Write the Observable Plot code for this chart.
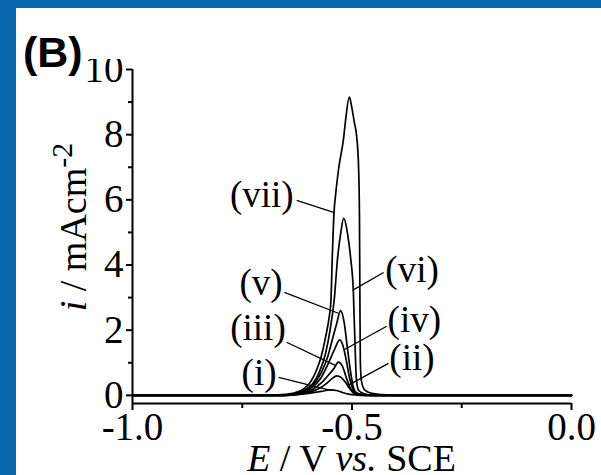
<!DOCTYPE html>
<html>
<head>
<meta charset="utf-8">
<script src="https://cdn.jsdelivr.net/npm/d3@7"></script>
<script src="https://cdn.jsdelivr.net/npm/@observablehq/plot@0.6"></script>
<style>
  html, body { margin: 0; padding: 0; background: white; }
  #frame {
    position: relative; width: 601px; height: 475px; box-sizing: border-box;
    border-left: 16px solid #0a69ae; border-top: 8px solid #0a69ae; background: white; overflow: hidden;
  }
  #chart { position: absolute; left: 0; top: 0; }
  #panel {
    position: absolute; left: 0; top: 0; width: 115px; height: 51px; background: white;
  }
  #panel span {
    position: absolute; left: 7px; top: 23px; font: bold 43px/43px "Liberation Sans", Arial, sans-serif; color: black;
    white-space: nowrap;
  }
</style>
</head>
<body>
<div id="frame"><div id="chart"></div><div id="panel"><span>(B)</span></div></div>
<script>
// ---- data ----
const xMajor = [-1.0, -0.5, 0.0];
const xMinor = [-0.75, -0.25];
const yMajor = [0, 2, 4, 6, 8, 10];
const yMinor = [1, 3, 5, 7, 9];

const E_i   = [-1.0,-0.65,-0.62,-0.595,-0.57,-0.55,-0.535,-0.52,-0.505,-0.49,-0.47,0];
const I_i   = [0,0,0.03,0.07,0.12,0.17,0.15,0.08,0.03,0.01,0,0];

const E_ii  = [-1.0,-0.66,-0.64,-0.61,-0.59,-0.57,-0.555,-0.545,-0.535,-0.525,-0.515,-0.505,-0.495,-0.48,-0.46,0];
const I_ii  = [0,0,0.01,0.06,0.13,0.25,0.4,0.52,0.6,0.55,0.4,0.2,0.06,0.01,0,0];

const E_iii = [-1.0,-0.66,-0.64,-0.61,-0.59,-0.57,-0.555,-0.54,-0.531,-0.522,-0.513,-0.505,-0.497,-0.485,-0.46,0];
const I_iii = [0,0,0.02,0.08,0.18,0.38,0.6,0.85,1.02,0.9,0.55,0.25,0.1,0.03,0,0];

const E_iv  = [-1.0,-0.66,-0.64,-0.61,-0.59,-0.57,-0.555,-0.54,-0.528,-0.52,-0.512,-0.505,-0.498,-0.49,-0.47,-0.45,0];
const I_iv  = [0,0,0.02,0.1,0.25,0.55,0.95,1.4,1.7,1.5,1.0,0.5,0.2,0.06,0.01,0,0];

const E_v   = [-1.0,-0.66,-0.64,-0.61,-0.59,-0.57,-0.555,-0.545,-0.535,-0.526,-0.518,-0.51,-0.503,-0.497,-0.49,-0.475,-0.45,0];
const I_v   = [0,0,0.02,0.12,0.3,0.7,1.2,1.7,2.2,2.6,2.25,1.4,0.7,0.25,0.08,0.02,0,0];

const E_vi  = [-1.0,-0.66,-0.64,-0.61,-0.59,-0.575,-0.56,-0.55,-0.54,-0.533,-0.526,-0.519,-0.510,-0.503,-0.497,-0.493,-0.490,-0.485,-0.47,-0.45,0];
const I_vi  = [0,0,0.02,0.15,0.35,0.7,1.3,2.0,3.0,4.2,4.95,5.43,4.95,4.2,3.2,1.5,0.5,0.15,0.04,0,0];

const E_vii = [-1.0,-0.70,-0.66,-0.63,-0.61,-0.595,-0.58,-0.57,-0.56,-0.552,-0.548,-0.545,-0.541,-0.537,-0.53,-0.519,-0.515,-0.506,-0.500,-0.495,-0.489,-0.485,-0.483,-0.482,-0.481,-0.478,-0.47,-0.455,-0.43,-0.40,0];
const I_vii = [0,0,0.02,0.08,0.2,0.4,0.8,1.2,1.8,2.4,2.9,4.2,5.6,6.2,7.0,7.9,8.4,9.15,8.8,8.4,7.9,7.0,5.5,3.0,1.0,0.4,0.15,0.06,0.02,0,0];

const labelText = ["(i)", "(ii)", "(iii)", "(iv)", "(v)", "(vi)", "(vii)"];
const labelE    = [-0.672, -0.415, -0.651, -0.419, -0.658, -0.424, -0.633];
const labelI    = [0.67, 1.13, 2.06, 2.30, 3.44, 3.83, 6.13];
const labelSide = ["end", "start", "end", "start", "end", "start", "end"];
const leadE1    = [-0.667, -0.417, -0.649, -0.421, -0.654, -0.428, -0.626];
const leadI1    = [0.55, 0.98, 1.63, 2.12, 3.16, 3.77, 5.98];
const leadE2    = [-0.549, -0.51, -0.538, -0.518, -0.531, -0.499, -0.540];
const leadI2    = [0.15, 0.3, 0.92, 1.4, 2.52, 3.22, 5.61];

// ---- build tables ----
const series = [
  ["(i)", E_i, I_i], ["(ii)", E_ii, I_ii], ["(iii)", E_iii, I_iii], ["(iv)", E_iv, I_iv],
  ["(v)", E_v, I_v], ["(vi)", E_vi, I_vi], ["(vii)", E_vii, I_vii]
];
const rows = [];
for (const [name, E, I] of series) E.forEach((e, k) => rows.push({series: name, E: e, I: I[k]}));
const labels = labelText.map((t, k) => ({t, E: labelE[k], I: labelI[k], side: labelSide[k],
  x1: leadE1[k], y1: leadI1[k], x2: leadE2[k], y2: leadI2[k]}));

const FONT = "'Liberation Serif', 'Times New Roman', serif";

const plot = Plot.plot({
  width: 585, height: 467,
  marginLeft: 116, marginRight: 30, marginTop: 61, marginBottom: 72,
  x: {domain: [-1, 0]},
  y: {domain: [-0.25, 10]},
  style: {fontFamily: FONT, fontSize: "39px", color: "black", background: "transparent", overflow: "visible"},
  marks: [
    Plot.ruleX([-1], {stroke: "black", strokeWidth: 2}),
    Plot.ruleY([-0.25], {stroke: "black", strokeWidth: 2}),
    Plot.axisX(xMajor, {tickSize: 7, tickPadding: 2, tickFormat: d => d.toFixed(1), label: null, strokeWidth: 2, fontSize: 39}),
    Plot.axisX(xMinor, {tickSize: 5, tickFormat: () => "", label: null, strokeWidth: 2}),
    Plot.axisY(yMajor, {tickSize: 6, tickPadding: 3, tickFormat: d => String(d), label: null, strokeWidth: 2, fontSize: 39}),
    Plot.axisY(yMinor, {tickSize: 4, tickFormat: () => "", label: null, strokeWidth: 2}),
    Plot.line(rows, {x: "E", y: "I", z: "series", stroke: "black", strokeWidth: 1.7, curve: "monotone-x"}),
    Plot.link(labels, {x1: "x1", y1: "y1", x2: "x2", y2: "y2", stroke: "black", strokeWidth: 1.3}),
    Plot.text(labels.filter(d => d.side === "end"), {x: "E", y: "I", text: "t", textAnchor: "end", fontSize: 37, fill: "black"}),
    Plot.text(labels.filter(d => d.side === "start"), {x: "E", y: "I", text: "t", textAnchor: "start", fontSize: 37, fill: "black"})
  ]
});

// axis titles with italic / superscript parts
const svg = d3.select(plot);
const xs = plot.scale("x"), ys = plot.scale("y");
const xt = svg.append("text")
  .attr("x", xs.apply(-0.5)).attr("y", 463)
  .attr("text-anchor", "middle").attr("font-family", FONT).attr("font-size", 38).attr("fill", "black");
xt.append("tspan").attr("font-style", "italic").text("E");
xt.append("tspan").text(" / V ");
xt.append("tspan").attr("font-style", "italic").text("vs.");
xt.append("tspan").text(" SCE");

const yt = svg.append("text")
  .attr("transform", `translate(70,${ys.apply(5.15)}) rotate(-90)`)
  .attr("text-anchor", "middle").attr("font-family", FONT).attr("font-size", 38).attr("fill", "black");
yt.append("tspan").attr("font-style", "italic").text("i");
yt.append("tspan").text(" / mAcm");
yt.append("tspan").attr("font-size", 30).attr("dy", -14).text("-2");

document.getElementById("chart").appendChild(plot);
</script>
</body>
</html>
